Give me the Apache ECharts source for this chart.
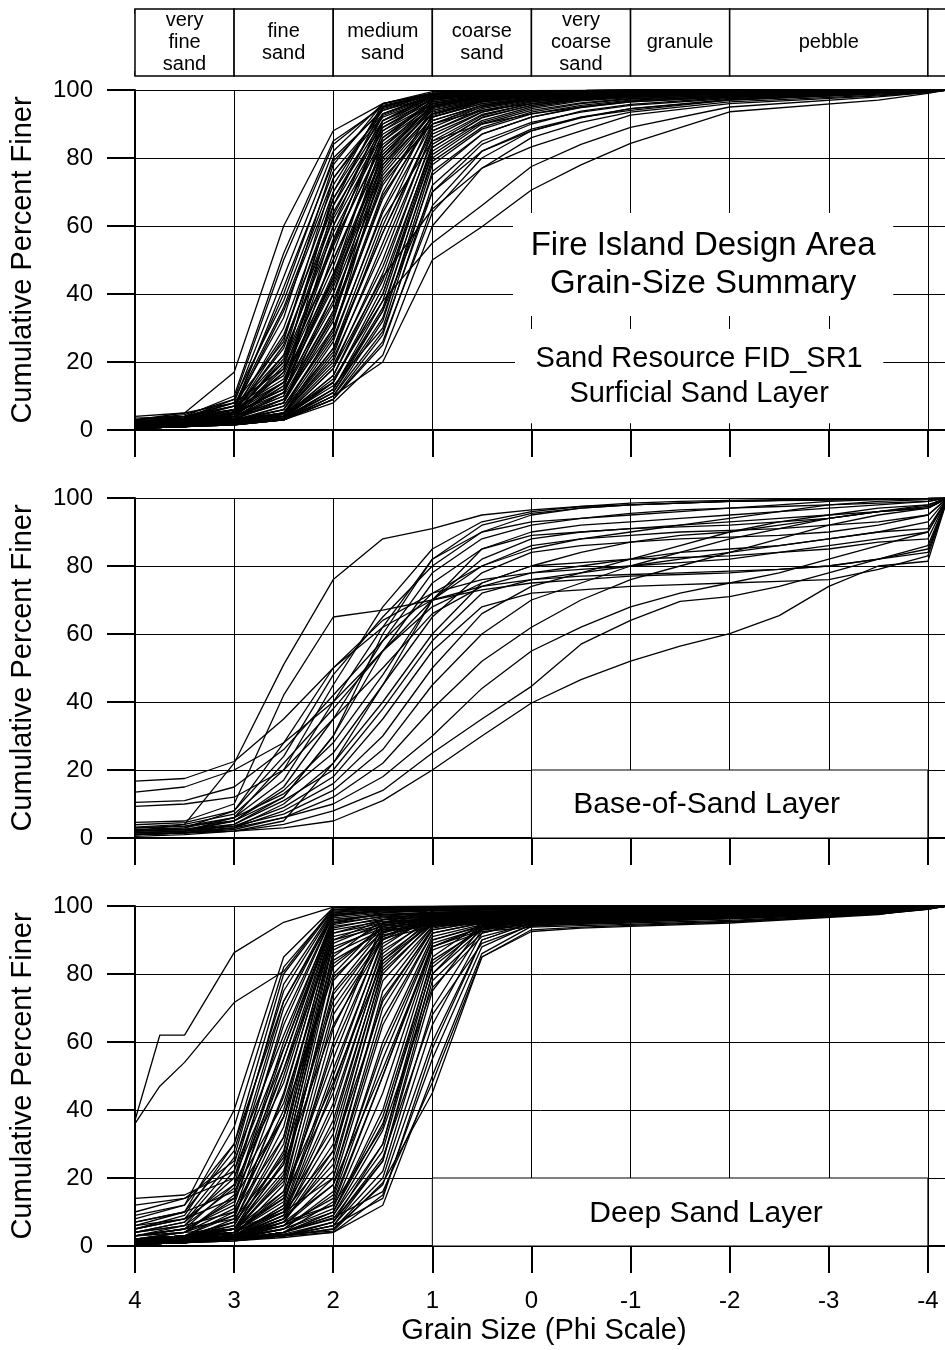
<!DOCTYPE html>
<html><head><meta charset="utf-8">
<script src="https://cdn.jsdelivr.net/npm/echarts@6/dist/echarts.min.js"></script>
<style>html,body{margin:0;padding:0;background:#fff}#c{width:945px;height:1350px}</style>
</head><body><div id="c"></div>
<script>
const FONT = "'Liberation Sans', Arial, Helvetica, sans-serif";

// Wentworth size classes (phi boundaries) for the header strip
const classNames = ['very\nfine\nsand', 'fine\nsand', 'medium\nsand', 'coarse\nsand', 'very\ncoarse\nsand', 'granule', 'pebble', ''];
const classBounds = [4, 3, 2, 1, 0, -1, -2, -4, -5];

// Panel titles
const panel1Title = 'Fire Island Design Area\nGrain-Size Summary';
const panel1Sub = 'Sand Resource FID_SR1\nSurficial Sand Layer';
const panel2Title = 'Base-of-Sand Layer';
const panel3Title = 'Deep Sand Layer';

// ---------- Panel 1: Surficial Sand Layer ----------
const phiSurf = [4, 3.5, 3, 2.5, 2, 1.5, 1, 0.5, 0, -0.5, -1, -2, -3.5, -4, -4.2];
const surficial = [
  [3,5,17,60,88,96,99,99.5,99.7,99.8,99.9,100,100,100,100],
  [2,4,10,52,85,95,98.5,99.3,99.6,99.8,99.9,100,100,100,100],
  [2.5,3.5,8,45,82,96,99,99.5,99.7,99.8,99.9,100,100,100,100],
  [1.5,3,7,40,80,94,98,99,99.4,99.6,99.8,99.9,100,100,100],
  [3,4.5,9,38,76,93,98,99,99.5,99.7,99.8,99.9,100,100,100],
  [2,3,6,35,72,95,99,99.5,99.7,99.8,99.9,100,100,100,100],
  [1,2,5,30,70,92,97.5,98.8,99.3,99.6,99.8,99.9,100,100,100],
  [2,3,6,28,66,90,97,98.5,99.2,99.5,99.7,99.9,100,100,100],
  [1.5,2.5,5,25,62,88,96,98,99,99.4,99.6,99.8,100,100,100],
  [3.5,4,7,33,78,96,99,99.5,99.7,99.8,99.9,100,100,100,100],
  [1,2,4,22,58,86,96,98,99,99.3,99.5,99.8,100,100,100],
  [2,3,5,20,55,84,95,97.5,98.5,99,99.4,99.7,99.9,100,100],
  [1.5,2.5,4.5,18,50,82,95,97.5,98.5,99,99.3,99.6,99.9,100,100],
  [2.5,3.5,6,15,45,80,94,97,98.3,98.8,99.2,99.6,99.9,100,100],
  [1,2,3.5,13,42,78,93,96.5,98,98.7,99.1,99.5,99.8,100,100],
  [2,3,5,12,38,75,92,96,97.5,98.3,98.8,99.4,99.8,100,100],
  [3,4,7,16,48,86,97,98.7,99.3,99.6,99.8,99.9,100,100,100],
  [1.5,2.5,4,10,35,72,91,95.5,97.3,98,98.6,99.2,99.7,100,100],
  [2,3,5,12,60,93,98.5,99.3,99.6,99.8,99.9,100,100,100,100],
  [1.5,2.5,4,10,52,90,98,99,99.5,99.7,99.8,99.9,100,100,100],
  [2,3,5,11,45,88,97.5,98.8,99.3,99.6,99.8,99.9,100,100,100],
  [1,2,3.5,8,40,85,97,98.5,99.2,99.5,99.7,99.9,100,100,100],
  [2,2.5,4,9,35,83,96.5,98.3,99,99.4,99.6,99.8,100,100,100],
  [1,2,3,7,28,78,95,97.8,98.8,99.2,99.5,99.8,100,100,100],
  [2.5,3.5,5,12,66,95,99,99.5,99.7,99.8,99.9,100,100,100,100],
  [1.5,2,3.5,8,32,80,96,98,99,99.4,99.6,99.8,100,100,100],
  [3,4,6,14,55,91,98.5,99.3,99.6,99.8,99.9,100,100,100,100],
  [4,5,8,18,70,96,99.5,99.7,99.8,99.9,100,100,100,100,100],
  [1,2,3,6,30,70,95,98,99,99.4,99.6,99.8,100,100,100],
  [0.5,1.5,2.5,5,26,65,93,97,98.5,99,99.4,99.7,99.9,100,100],
  [1,1.5,2.5,4.5,22,60,92,96.5,98,98.8,99.2,99.6,99.9,100,100],
  [1.5,2,3,5,20,55,90,95.5,97.5,98.5,99,99.5,99.8,100,100],
  [0.5,1,2,4,18,50,88,94.5,97,98,98.7,99.3,99.8,100,100],
  [1,1.5,2.5,4,16,46,86,93.5,96.5,97.8,98.5,99.2,99.7,100,100],
  [1,2,3,5,14,42,84,92.5,96,97.5,98.3,99,99.6,100,100],
  [0.5,1,2,3.5,12,38,82,91,95,97,98,98.8,99.5,99.9,100],
  [1,1.5,2,3.5,11,35,80,90,94,96.2,97.5,98.5,99.4,99.8,100],
  [0.5,1,1.5,3,10,32,78,88.5,93,95.5,97,98.3,99.3,99.8,100],
  [1,1.5,2.5,4,13,30,76,87,92,94.8,96.5,98,99.2,99.7,100],
  [0.5,1,1.5,3,9,28,72,85,90.5,93.5,95.5,97.5,99,99.6,100],
  [1,1.5,2,3,9,25,66,82,88.5,92,94.5,97,98.8,99.5,100],
  [0.5,1,1.5,3,8,22,60,77,86,90.5,93.5,96.5,98.5,99.4,100],
  [1,1.5,2,3,10,20,50,59.8,70.6,78,84.3,93.6,97,99,100],
  [1.5,2,3,4,15,38,55,66,77.5,84,89,95,98,99.2,100],
  [1,1.5,2.5,4,18,45,65,77,83.3,88,92.6,96,98.3,99.3,100],
  [0.5,1,2,3,12,35,70,82,88,92,94,97,99,99.5,100],
  [1,2,3,5,24,62,85,90,93,95,96.5,98,99.2,99.8,100],
  [2,3,4,8,34,74,90,94,96,97.3,98.2,99.1,99.7,100,100],
  [2.5,3.5,6,22,68,93,98.5,99.2,99.6,99.8,99.9,100,100,100,100],
  [1,2,4,17,56,89,97.5,98.7,99.3,99.6,99.8,99.9,100,100,100],
  [2,3,5,14,44,81,95.5,97.8,98.8,99.3,99.6,99.8,100,100,100],
  [1.5,2.5,4,9,30,68,92.5,96.8,98.3,99,99.4,99.7,99.9,100,100],
  [1,1.5,3,6,24,58,89,95,97.2,98.3,98.9,99.5,99.9,100,100],
  [0.5,1,2,4,14,40,83,91.8,95.5,97.3,98.2,99,99.6,100,100],
  [3,4,8,26,74,94,98.8,99.4,99.7,99.8,99.9,100,100,100,100],
  [2,3,6,20,63,91,98,99,99.5,99.7,99.8,99.9,100,100,100],
  [2,3.5,9,50,84,95.5,98.8,99.4,99.7,99.8,99.9,100,100,100,100],
  [1.5,2.5,6,42,79,94.5,98.5,99.2,99.6,99.8,99.9,100,100,100,100],
  [2.5,3.5,7,36,74,92.5,97.8,98.9,99.4,99.6,99.8,99.9,100,100,100],
  [1,2,5,27,68,91,97.2,98.6,99.2,99.5,99.7,99.9,100,100,100],
  [2,3,5.5,24,64,89,96.5,98.2,99,99.4,99.6,99.8,100,100,100],
  [1.5,2.5,4.5,21,60,87,96,98,98.9,99.3,99.5,99.8,100,100,100],
  [1,2,4,19,54,85,95.5,97.8,98.8,99.2,99.5,99.8,100,100,100],
  [2,3,5,17,50,83,95,97.5,98.6,99.1,99.4,99.7,99.9,100,100],
  [1,2,4,14,46,81,94.5,97.2,98.4,99,99.3,99.7,99.9,100,100],
  [1.5,2.5,4.5,13,43,79,94,97,98.3,98.9,99.2,99.6,99.9,100,100],
  [1,1.5,3,11,40,77,93.5,96.8,98.2,98.8,99.2,99.6,99.9,100,100],
  [2,2.5,4,11,37,76,93,96.5,98,98.7,99.1,99.5,99.8,100,100],
  [1,1.5,3,9,33,73,92,96,97.7,98.5,99,99.5,99.8,100,100],
  [0.5,1,2.5,7,29,69,91,95.5,97.5,98.4,98.9,99.4,99.8,100,100],
  [1,1.5,2.5,6,27,64,90,95,97.2,98.2,98.8,99.4,99.8,100,100],
  [0.5,1,2,5,23,58,88,94,96.8,98,98.6,99.3,99.8,100,100],
  [1,1.5,2.5,5,21,53,87,93.5,96.5,97.8,98.5,99.2,99.7,100,100],
  [0.5,1,2,4.5,19,48,85,92.8,96,97.5,98.3,99.1,99.7,100,100],
  [1,1.5,2,4,16,44,83,92,95.5,97.2,98.1,99,99.6,100,100],
  [0.5,1,2,3.5,14,40,81,90.5,94.5,96.8,97.8,98.8,99.5,99.9,100],
  [1,1.5,2,3.5,12,36,79,89,93.5,96,97.3,98.5,99.4,99.8,100],
  [0.5,1,1.5,3,11,33,75,87,92,95,96.8,98.2,99.3,99.8,100],
  [1,1.5,2,3,10,29,70,84,90,93.8,95.8,97.8,99.1,99.7,100],
  [0.5,1,1.5,3,9,26,64,80,88,91.8,94.5,97.2,98.9,99.6,100]
];

// ---------- Panel 2: Base-of-Sand Layer ----------
const phiBase = [4, 3.5, 3, 2.5, 2, 1.5, 1, 0.5, 0, -0.5, -1, -1.5, -2, -2.5, -3, -3.5, -4, -4.2];
const baseOfSand = [
  [2,4,22,51,76,88,91,95,96.5,97.5,98,98.5,99,99.2,99.4,99.6,99.8,100],
  [16.7,17.5,22.5,35,50,62,70,74,76,78,80,82,84,86,88,90,93,100],
  [13.5,15,20,28,40,55,68,75,80,84,87,89,90,92,94,96,98,100],
  [10.5,11,15,26,42,58,72,80,85,88,90,92,94,96,98,99,99.5,100],
  [9.3,10,12,20,35,50,66,74,78,79,80,81,82,84,86,88,90,100],
  [4.6,5,10,42,65,67,70,73,75,76,77,77.5,78,79,80,82,85,100],
  [3.9,4.5,8,24,48,65,80,90,95,97,98,98.5,99,99.3,99.5,99.7,99.9,100],
  [3.2,4,7,20,45,68,85,93,96,97.5,98.5,99,99.3,99.5,99.7,99.8,99.9,100],
  [2.5,3,6,17,40,62,82,92,95.5,97,98,98.5,99,99.3,99.5,99.7,99.9,100],
  [1.5,2,5,15,35,58,78,88,92,94,95.5,96.5,97,97.5,98,98.5,99,100],
  [1,1.5,4,12,30,55,75,85,89,90,91,91.5,92,93,94,96,97,100],
  [2,2.5,5,14,28,48,70,82,88,90,91,92,93,94,95,96,97,100],
  [3,3.5,6,13,25,45,65,78,84,86,87,88,88.5,89,90,92,95,100],
  [1,1.5,3,10,22,40,60,75,80,81,82,82.5,83,84,85,87,88,100],
  [2,2.5,4,11,20,38,58,72,76,77,77.5,78,78.5,79,80,82,84,100],
  [1.5,2,3.5,9,18,35,55,68,72,73,74,74.5,75,75.5,76,79,83,100],
  [1,1.5,3,8,16,30,50,66,74,78,82,86,90,93,95,97,98,100],
  [2,2.5,3.5,7,14,26,45,60,70,75,80,84,88,91,94,96,97.5,100],
  [1,1.5,2.5,6,12,22,38,52,62,70,76,80,84,88,92,95,97,100],
  [1.5,2,3,6,10,18,30,44,55,62,68,72,75,78,82,86,90,100],
  [1,1.5,2,4,8,14,25,35,44.6,57,64,69.6,71,74,78,82,86,100],
  [1,1.5,2,3,5,11,20,30,39.7,46.6,52,56.4,60.1,65.4,74,80,81.4,100],
  [0.5,1,2,5,22,45,70,85,90,92,93,94,95,96,97,98,99,100],
  [3,3.5,5,12,30,60,82,90,93,94,95,96,97,98,99,99.5,99.8,100],
  [2,3,8,28,50,64,72,76,78,80,82,84,85,86,88,90,91,100],
  [1.5,2,6,22,38,55,70,80,86,88,89,90,90.5,91,92,93,95,100]
];

// ---------- Panel 3: Deep Sand Layer ----------
const phiDeep = [4, 3.5, 3, 2.5, 2, 1.5, 1, 0.5, 0, -0.5, -1, -2, -3.5, -4, -4.2];
const deepSand = [
  [8,12,40,85,99.5,99.8,99.9,100,100,100,100,100,100,100,100],
  [5,9,30,80,99,99.5,99.7,99.8,99.9,99.9,100,100,100,100,100],
  [6,10,28,75,98.5,99.2,99.5,99.6,99.7,99.8,99.8,99.9,100,100,100],
  [3,6,22,70,98,99,99.3,99.5,99.6,99.7,99.8,99.9,100,100,100],
  [4,7,20,65,97.5,98.5,99,99.2,99.4,99.5,99.6,99.7,99.9,100,100],
  [2,4,15,60,97,98.3,98.8,99,99.2,99.3,99.4,99.6,99.8,100,100],
  [10,14,25,62,96,97.5,98,98.3,98.5,98.7,98.8,99,99.5,99.9,100],
  [3,5,12,55,96,97.3,97.8,98,98.2,98.3,98.5,98.8,99.4,99.9,100],
  [2,3,10,50,95,96.8,97.3,97.6,97.8,98,98.1,98.5,99.2,99.8,100],
  [5,8,18,48,94,96,96.7,97,97.3,97.5,97.7,98.2,99,99.7,100],
  [1,2,8,45,93,95.5,96.3,96.7,97,97.2,97.4,97.9,98.8,99.6,100],
  [3,4,9,40,92,95,96,96.4,96.7,96.9,97.1,97.6,98.6,99.5,100],
  [2,3,7,35,91,94.5,95.6,96,96.3,96.5,96.8,97.3,98.4,99.4,100],
  [1.5,2.5,6,30,90,94,95.2,95.7,96,96.2,96.5,97,98.2,99.3,100],
  [7,10,16,42,88,93.5,94.8,95.3,95.7,96,96.2,96.8,98,99.2,100],
  [2,3,5,28,86,93,94.5,95,95.4,95.7,96,96.6,97.8,99.1,100],
  [1,2,4,25,84,92.5,94.2,94.7,95.1,95.4,95.7,96.3,97.6,99,100],
  [4,6,10,32,85,96,98,98.5,98.8,99,99.2,99.5,99.8,100,100],
  [12,14,20,55,97,99,99.5,99.7,99.8,99.9,100,100,100,100,100],
  [14,15,22,58,95,98,99,99.3,99.5,99.6,99.7,99.8,99.9,100,100],
  [6,8,14,38,80,95,97.5,98,98.4,98.7,99,99.3,99.7,100,100],
  [1,2,4,20,78,94,97,97.6,98,98.3,98.6,99,99.5,99.9,100],
  [2,3,5,22,75,93,96.5,97.2,97.6,98,98.3,98.8,99.4,99.9,100],
  [3,5,8,26,72,92,96,96.8,97.3,97.7,98,98.6,99.3,99.8,100],
  [1,2,3,18,70,91,95.5,96.4,97,97.4,97.8,98.4,99.2,99.8,100],
  [1,2,3,12,60,95,99,99.5,99.7,99.8,99.9,100,100,100,100],
  [2,3,4,15,55,92,98.5,99.2,99.5,99.7,99.8,99.9,100,100,100],
  [1,1.5,3,10,50,90,98,98.8,99.2,99.4,99.6,99.8,99.9,100,100],
  [3,4,5,14,45,88,97.5,98.3,98.8,99,99.2,99.5,99.8,100,100],
  [1,2,3,9,40,86,97,97.8,98.3,98.6,98.9,99.3,99.7,100,100],
  [2,2.5,4,11,35,84,96.5,97.4,97.9,98.2,98.5,99,99.6,100,100],
  [1,1.5,2.5,8,30,82,96,97,97.5,97.8,98.1,98.7,99.5,99.9,100],
  [0.5,1,2,7,26,80,95,96.5,97,97.4,97.7,98.4,99.3,99.9,100],
  [1,2,3,8,22,75,94,96,96.6,97,97.3,98,99.1,99.8,100],
  [2,3,4,10,20,70,93,95.5,96.2,96.6,97,97.7,98.9,99.7,100],
  [1,1.5,2.5,6,18,65,92,95,95.8,96.2,96.6,97.4,98.7,99.6,100],
  [0.5,1,2,5,15,60,91,94.5,95.4,95.8,96.2,97,98.5,99.5,100],
  [1,2,3,6,14,55,90,94,95,95.4,95.8,96.6,98.3,99.4,100],
  [1.5,2,3,7,12,50,89,93.5,94.6,95,95.4,96.2,98,99.3,100],
  [0.5,1,2,5,11,45,88,93,94.2,94.6,95,95.8,97.8,99.2,100],
  [1,1.5,2.5,5,10,40,87,92.5,93.8,94.2,94.6,95.5,97.6,99.1,100],
  [2,2.5,3.5,6,12,35,85,95,97,97.6,98,98.6,99.4,99.9,100],
  [0.5,1,2,4,9,30,83,94,96.5,97.2,97.7,98.4,99.3,99.9,100],
  [1,1.5,2,4,8,28,80,93,96,96.8,97.3,98.1,99.2,99.8,100],
  [0.5,1,1.5,3,7,25,78,92,95.5,96.3,96.9,97.8,99,99.7,100],
  [1,1.5,2,3,6,22,70,93,96,96.8,97.3,98,99,99.7,100],
  [0.5,1,2,3,5,20,65,92,95.5,96.3,96.8,97.6,98.8,99.6,100],
  [1,1.5,2,3,5,18,60,90,95,95.8,96.3,97.2,98.6,99.5,100],
  [0.5,1,1.5,2.5,4,15,55,88,94.5,95.3,95.8,96.8,98.4,99.4,100],
  [1,1.5,2,3,4,12,50,86,94,94.8,95.3,96.4,98.2,99.3,100],
  [0.5,1,2,4,8.3,16,48,85,93,93.8,94.3,95.3,97.8,99.2,100],
  [1,1.5,2,3.4,4.4,18.6,45,85,92.5,93.5,94,95,97.5,99.5,100],
  [0.5,1,1.5,3,6,25,75,94,97,97.6,98,98.6,99.4,99.9,100],
  [1,2,2.5,3.5,7,30,80,95,97.5,98,98.4,98.9,99.5,99.9,100],
  [0.5,1,2,3,6,14,58,90,95,95.7,96.2,97.1,98.5,99.5,100],
  [9,12,30,72,97,98.8,99.3,99.5,99.6,99.7,99.8,99.9,100,100,100],
  [4,6,17,52,90,96,97.6,98,98.3,98.5,98.7,99,99.5,99.9,100],
  [2,4,11,38,82,94,96.8,97.4,97.8,98,98.3,98.7,99.3,99.8,100],
  [1.5,3,7,24,65,90,96,97,97.5,97.9,98.2,98.7,99.3,99.8,100],
  [1,2,5,16,48,84,95,96.5,97.2,97.6,98,98.5,99.2,99.8,100],
  [2,3,5,10,28,72,93.5,95.8,96.8,97.3,97.7,98.3,99.1,99.7,100],
  [1,1.5,3,7,18,52,88,94,95.8,96.5,97,97.8,98.8,99.6,100],
  [0.5,1,2,4,10,36,82,93.5,96,96.8,97.3,98,99,99.7,100],
  [7,10,35,82,99,99.6,99.8,99.9,100,100,100,100,100,100,100],
  [5,8,26,77,98.8,99.4,99.6,99.7,99.8,99.9,99.9,100,100,100,100],
  [4,7,24,72,98.2,99.1,99.4,99.5,99.6,99.7,99.8,99.9,100,100,100],
  [3,5,18,67,97.6,98.7,99.1,99.3,99.4,99.5,99.6,99.8,99.9,100,100],
  [2,4,14,58,96.5,98,98.6,98.9,99.1,99.2,99.3,99.5,99.8,100,100],
  [3,5,13,52,95.5,97.5,98.2,98.5,98.7,98.9,99,99.3,99.7,100,100],
  [2,3,9,44,94.5,97,97.8,98.2,98.4,98.6,98.8,99.1,99.6,100,100],
  [1,2,7,38,93.5,96.5,97.4,97.8,98.1,98.3,98.5,98.9,99.5,99.9,100],
  [2,3,6,32,92,96,97,97.5,97.8,98,98.2,98.7,99.4,99.9,100],
  [1,2,5,27,89,95,96.5,97,97.4,97.7,97.9,98.4,99.3,99.8,100],
  [1.5,2.5,5,24,87,94.5,96,96.6,97,97.3,97.6,98.2,99.2,99.8,100],
  [1,2,4,21,83,93.5,95.5,96.2,96.6,97,97.3,98,99.1,99.8,100],
  [2,3,5,19,79,92.5,95,95.8,96.3,96.7,97,97.8,99,99.7,100],
  [1,1.5,3.5,16,74,91.5,94.5,95.4,96,96.4,96.8,97.6,98.9,99.7,100],
  [1.5,2.5,4,14,68,90.5,94,95,95.6,96,96.4,97.3,98.7,99.6,100],
  [1,2,3,12,64,93,97.5,98.2,98.6,98.9,99.1,99.5,99.8,100,100],
  [2,3,4,13,58,91,97,97.8,98.3,98.6,98.9,99.3,99.7,100,100],
  [1,2,3,11,52,89,96.5,97.4,98,98.3,98.6,99.1,99.6,100,100],
  [0.5,1.5,2.5,9,47,87,96,97,97.6,98,98.3,98.9,99.5,100,100],
  [1,2,3,10,42,85,95.5,96.6,97.3,97.7,98,98.7,99.4,99.9,100],
  [0.5,1,2,8,37,83,95,96.3,97,97.4,97.8,98.5,99.3,99.9,100],
  [1,1.5,3,9,33,81,94.5,96,96.7,97.1,97.5,98.3,99.2,99.8,100],
  [0.5,1,2,7,28,78,94,95.7,96.4,96.8,97.2,98,99.1,99.8,100],
  [1,2,3,8,24,73,93,95.3,96.1,96.5,96.9,97.8,99,99.7,100],
  [0.5,1,2,6,20,67,92,95,95.9,96.3,96.7,97.5,98.8,99.6,100],
  [1,1.5,2.5,5,16,58,90,94.2,95.3,95.8,96.2,97.1,98.6,99.5,100],
  [0.5,1,2,4,13,50,88,93.8,95,95.5,96,96.9,98.5,99.5,100],
  [1,1.5,2,4,10,38,84,93.2,94.6,95.1,95.6,96.6,98.3,99.4,100],
  [0.5,1,2,4,9,34,76,91,94.8,95.6,96.2,97.2,98.7,99.6,100],
  [1,1.5,2,3,7,26,68,89,94.3,95.2,95.8,96.9,98.5,99.5,100]
];
// two very fine outliers measured on a finer sieve set
const phiDeepOutlier = [4, 3.75, 3.5, 3, 2.5, 2, 1.5, 1, 0.5, 0, -1, -2, -3.5, -4, -4.2];
const deepOutliers = [
  [37,62,62,86.3,95.2,99.7,99.8,99.9,100,100,100,100,100,100,100],
  [36,47,54,71.6,80.8,99.5,99.7,99.8,99.9,100,100,100,100,100,100]
];

const yTicks = {min: 0, max: 100, interval: 20};
const xTicks = {min: -5, max: 4, interval: 1};

// ---------- build chart ----------
const L = 135, W = 892, PH = 340;
const panelTops = [90, 498, 906];
const gridBase = {outerBoundsMode: 'none', containLabel: false};
const grids = [Object.assign({left: L, top: 9, width: W, height: 67}, gridBase)];
const xAxes = [], yAxes = [], series = [];
const black = '#000';

const headerAxis = (pos) => ({
  gridIndex: 0, type: 'value', min: xTicks.min, max: xTicks.max, interval: xTicks.interval,
  inverse: true, position: pos,
  axisLine: {show: false, onZero: false},
  axisTick: {show: true, inside: true, length: 5, lineStyle: {color: black, width: 1.5}},
  axisLabel: {show: false}, splitLine: {show: false}
});
xAxes.push(headerAxis('bottom'), headerAxis('top'));
yAxes.push({gridIndex: 0, type: 'value', min: 0, max: 1, show: false, axisLine: {onZero: false}});
series.push({
  type: 'line', xAxisIndex: 0, yAxisIndex: 0, data: [[4, 0]], symbol: 'none',
  lineStyle: {opacity: 0}, silent: true, z: 1,
  markArea: {
    silent: true,
    itemStyle: {color: '#fff', opacity: 1, borderColor: black, borderWidth: 1.5},
    label: {show: true, position: 'inside', color: black, fontSize: 20, lineHeight: 22, fontFamily: FONT},
    data: classNames.map((n, i) => [{name: n, xAxis: classBounds[i], yAxis: 0}, {xAxis: classBounds[i + 1], yAxis: 1}])
  }
});

const panels = [
  {phi: phiSurf, curves: surficial},
  {phi: phiBase, curves: baseOfSand},
  {phi: phiDeep, curves: deepSand, extra: {phi: phiDeepOutlier, curves: deepOutliers}}
];

const markAreas = [
  {
    silent: true,
    data: [
      [{name: panel1Title, xAxis: 0.186, yAxis: 63.8,
        itemStyle: {color: '#fff', opacity: 1, borderWidth: 0},
        label: {show: true, position: 'inside', color: black, fontSize: 33, lineHeight: 38, fontFamily: FONT}},
       {xAxis: -3.65, yAxis: 33.5}],
      [{name: panel1Sub, xAxis: 0.166, yAxis: 29.7,
        itemStyle: {color: '#fff', opacity: 1, borderWidth: 0},
        label: {show: true, position: 'inside', color: black, fontSize: 29, lineHeight: 35, fontFamily: FONT}},
       {xAxis: -3.55, yAxis: 2}]
    ]
  },
  {
    silent: true,
    itemStyle: {color: '#fff', opacity: 1, borderColor: black, borderWidth: 1},
    label: {show: true, position: 'inside', color: black, fontSize: 30, fontFamily: FONT, offset: [-23, 1]},
    data: [[{name: panel2Title, xAxis: 0, yAxis: 20}, {xAxis: -4, yAxis: 0}]]
  },
  {
    silent: true,
    itemStyle: {color: '#fff', opacity: 1, borderColor: black, borderWidth: 1},
    label: {show: true, position: 'inside', color: black, fontSize: 30, fontFamily: FONT, offset: [26, 2]},
    data: [[{name: panel3Title, xAxis: 1, yAxis: 20}, {xAxis: -4, yAxis: 0}]]
  }
];

panels.forEach((p, k) => {
  const gi = k + 1;
  const last = k === panels.length - 1;
  grids.push(Object.assign({left: L, top: panelTops[k], width: W, height: PH}, gridBase));
  xAxes.push({
    gridIndex: gi, type: 'value', min: xTicks.min, max: xTicks.max, interval: xTicks.interval,
    inverse: true, position: 'bottom',
    axisLine: {show: true, onZero: false, lineStyle: {color: black, width: 2}},
    axisTick: {show: true, inside: false, length: 27, lineStyle: {color: black, width: 2}},
    axisLabel: {show: last, color: black, fontSize: 24, fontFamily: FONT, margin: 43,
      formatter: (v) => (v < -4 ? '' : String(v))},
    splitLine: {show: true, lineStyle: {color: black, width: 1}},
    name: last ? 'Grain Size (Phi Scale)' : '',
    nameLocation: 'middle', nameGap: 70,
    nameTextStyle: {color: black, fontSize: 29, fontFamily: FONT, padding: [0, 74, 0, 0]}
  });
  yAxes.push({
    gridIndex: gi, type: 'value', min: yTicks.min, max: yTicks.max, interval: yTicks.interval,
    position: 'left',
    axisLine: {show: true, onZero: false, lineStyle: {color: black, width: 2}},
    axisTick: {show: true, inside: false, length: 28, lineStyle: {color: black, width: 2}},
    axisLabel: {show: true, color: black, fontSize: 24, fontFamily: FONT, margin: 42},
    splitLine: {show: true, lineStyle: {color: black, width: 1}},
    name: 'Cumulative Percent Finer', nameLocation: 'middle', nameGap: 98,
    nameTextStyle: {color: black, fontSize: 29, fontFamily: FONT}
  });
  const addCurves = (phi, curves) => curves.forEach((vals) => {
    series.push({
      type: 'line', xAxisIndex: gi + 1, yAxisIndex: gi,
      data: phi.map((x, i) => [x, vals[i]]),
      symbol: 'none', showSymbol: false, silent: true, z: 3,
      lineStyle: {color: black, width: 1.3}
    });
  });
  const firstIdx = series.length;
  addCurves(p.phi, p.curves);
  if (p.extra) addCurves(p.extra.phi, p.extra.curves);
  series[firstIdx].markArea = markAreas[k];
});

const chart = echarts.init(document.getElementById('c'), null, {renderer: 'canvas'});
chart.setOption({
  animation: false,
  backgroundColor: '#fff',
  textStyle: {fontFamily: FONT},
  grid: grids,
  xAxis: xAxes,
  yAxis: yAxes,
  series: series
});
</script>
</body></html>
